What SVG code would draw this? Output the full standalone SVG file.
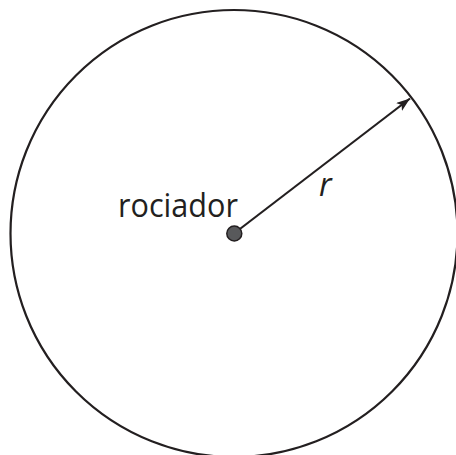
<svg xmlns="http://www.w3.org/2000/svg" width="456" height="455" viewBox="0 0 456 455">
<style>
.ln{stroke:#231f20;stroke-width:2.2;fill:none}
.lbl{font-family:"Open Sans","Liberation Sans",sans-serif;font-size:32px;fill:#231f20}
</style>
<defs>
<marker id="ah" viewBox="0 0 14 10" refX="14" refY="5" markerWidth="14" markerHeight="10" markerUnits="userSpaceOnUse" orient="auto"><path d="M0,0 L14,5 L0,10 L3.5,5 Z" fill="#231f20"/></marker>
</defs>
<rect width="456" height="455" fill="#fff"/>
<g id="circle"><circle cx="234" cy="233.5" r="223.5" class="ln"/></g>
<g id="connectors"><line x1="234" y1="233.5" x2="410" y2="98.5" class="ln" marker-end="url(#ah)"/></g>
<g id="sprinkler"><circle cx="234.3" cy="233.5" r="7.5" fill="#58595b" stroke="#231f20" stroke-width="1.5"/>
<text x="118" y="216.5" class="lbl" textLength="120" lengthAdjust="spacingAndGlyphs">rociador</text></g>
<g id="radius-label"><text x="319" y="196" class="lbl" font-style="italic">r</text></g>
</svg>
